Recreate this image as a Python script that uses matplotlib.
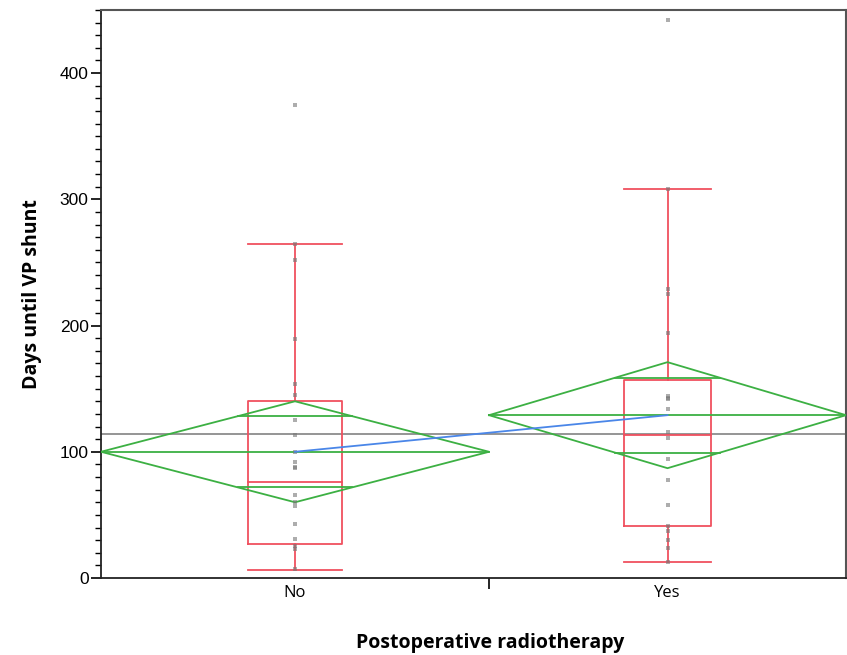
import numpy as np
import matplotlib.pyplot as plt

# groups and group sizes (JMP scales group width by n)
groups = ['No', 'Yes']
n_obs = [20, 18.4]

# individual observations (days until VP shunt)
days_no = [375, 265, 252, 189, 154, 145, 125, 113, 100, 92, 88, 87, 66, 60, 57, 43, 31, 25, 23, 7]
days_yes = [442, 308, 229, 225, 194, 144, 143, 142, 134, 116, 111, 94, 78, 58, 41, 37, 30, 24, 13]

# box plot summary
q1 = [27, 41]
median = [76, 113]
q3 = [140, 157]
whisk_lo = [6.5, 13]
whisk_hi = [265, 308]

# means diamonds (mean and 95% CI)
mean = [100, 129]
ci_lo = [60, 87]
ci_hi = [140, 171]
grand_mean = 114

red = '#f0505f'
green = '#3cb043'
blue = '#4a86e8'

fig = plt.figure(figsize=(8.47, 6.55), dpi=100)
ax = fig.add_axes([101/847, 77/655, 745/847, 568/655])

edges = np.concatenate([[0], np.cumsum(n_obs)])
centers = (edges[:-1] + edges[1:]) / 2
halfs = np.array(n_obs) / 2

# grand mean
ax.axhline(grand_mean, color='#8c8c8c', lw=1.3, zorder=1)

for i, vals in enumerate([days_no, days_yes]):
    c, h = centers[i], halfs[i]
    bw = 0.244 * h
    # box
    ax.plot([c - bw, c + bw, c + bw, c - bw, c - bw],
            [q1[i], q1[i], q3[i], q3[i], q1[i]], color=red, lw=1.3, zorder=3)
    ax.plot([c - bw, c + bw], [median[i], median[i]], color=red, lw=1.3, zorder=3)
    ax.plot([c, c], [q3[i], whisk_hi[i]], color=red, lw=1.3, zorder=3)
    ax.plot([c, c], [whisk_lo[i], q1[i]], color=red, lw=1.3, zorder=3)
    ax.plot([c - bw, c + bw], [whisk_hi[i], whisk_hi[i]], color=red, lw=1.3, zorder=3)
    ax.plot([c - bw, c + bw], [whisk_lo[i], whisk_lo[i]], color=red, lw=1.3, zorder=3)
    # means diamond
    l, r = edges[i], edges[i + 1]
    ax.plot([l, c, r, c, l], [mean[i], ci_hi[i], mean[i], ci_lo[i], mean[i]],
            color=green, lw=1.3, zorder=4)
    ax.plot([l, r], [mean[i], mean[i]], color=green, lw=1.3, zorder=4)
    d = (ci_hi[i] - mean[i]) / np.sqrt(2)
    ow = h * (1 - 1 / np.sqrt(2))
    for yy in [mean[i] + d, mean[i] - d]:
        ax.plot([c - ow, c + ow], [yy, yy], color=green, lw=1.3, zorder=4)
    # points
    ax.scatter(np.full(len(vals), c), vals, marker='s', s=5, color='#777777',
               alpha=0.6, linewidths=0, zorder=5)

# line connecting means
ax.plot(centers, mean, color=blue, lw=1.3, zorder=5)

ax.set_xlim(0, edges[-1])
ax.set_ylim(0, 450)

ax.set_yticks(np.arange(0, 401, 100))
ax.set_yticks(np.arange(0, 451, 10), minor=True)
ax.tick_params(axis='y', which='major', length=7, width=1.2, labelsize=12.5, pad=2)
ax.tick_params(axis='y', which='minor', length=4, width=1.0)
for t in ax.get_yticklabels():
    t.set_fontfamily('Liberation Sans')

ax.set_xticks(edges[1:-1])
ax.set_xticklabels([])
ax.set_xticks(centers, minor=True)
ax.set_xticklabels(groups, minor=True, fontsize=12, fontfamily='Open Sans')
ax.tick_params(axis='x', which='major', length=8, width=1.2)
ax.tick_params(axis='x', which='minor', length=0, pad=5)

for s in ['left', 'bottom']:
    ax.spines[s].set_linewidth(1.3)
    ax.spines[s].set_color('#222222')
for s in ['top', 'right']:
    ax.spines[s].set_linewidth(1.5)
    ax.spines[s].set_color('#555555')

ax.set_ylabel('Days until VP shunt', fontsize=14, fontweight='bold',
              fontfamily='Open Sans', va='center')
ax.yaxis.set_label_coords(-0.093, 0.5)
ax.set_xlabel('Postoperative radiotherapy', fontsize=14, fontweight='bold',
              fontfamily='Open Sans', va='center')
ax.xaxis.set_label_coords(0.523, -0.1144)

fig.savefig('out.png', dpi=100)
